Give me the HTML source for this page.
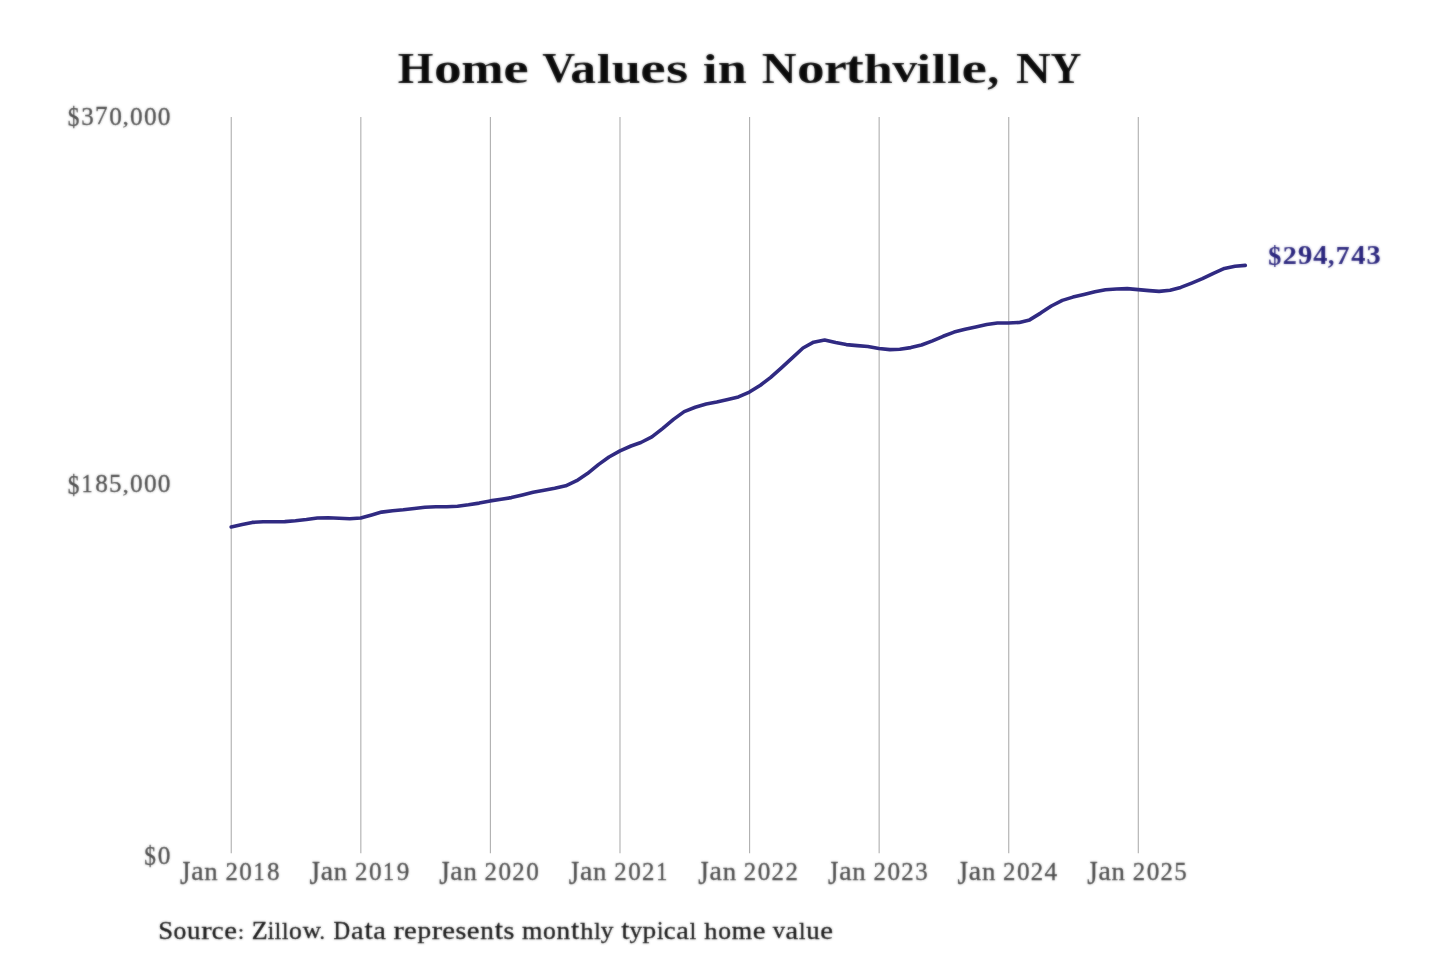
<!DOCTYPE html>
<html lang="en">
<head>
<meta charset="utf-8">
<title>Home Values in Northville, NY</title>
<style>
html, body { margin: 0; padding: 0; background: #ffffff; }
body { width: 1440px; height: 960px; overflow: hidden; font-family: "Liberation Serif", serif; }
svg { display: block; }
svg text { font-family: "Liberation Serif", serif; font-size: 40px; }
.grid line { stroke:#b2b2b2; stroke-width:1.15; }
.series { fill:none; stroke:#302a82; stroke-width:3.6; stroke-linecap:round; stroke-linejoin:round; }
.title text { font-weight: bold; fill: #0a0a0a; }
.title { filter: url(#soft); }
.ylab text { font-weight: normal; fill: #4a4a4a; stroke: #4a4a4a; }
.ylab { filter: url(#soft); }
.xlab text { font-weight: normal; fill: #4a4a4a; stroke: #4a4a4a; }
.xlab { filter: url(#soft); }
.endlab text { font-weight: bold; fill: #28237c; stroke: #28237c; }
.endlab { filter: url(#soft); }
.source text { font-weight: normal; fill: #161616; stroke: #161616; }
.source { filter: url(#soft); }
</style>
</head>
<body>
<svg width="1440" height="960" viewBox="0 0 1440 960">
<defs>
<filter id="soft" filterUnits="userSpaceOnUse" x="0" y="0" width="1440" height="960" color-interpolation-filters="sRGB">
<feGaussianBlur in="SourceGraphic" stdDeviation="0.8" result="b"/>
<feComposite in="SourceGraphic" in2="b" operator="arithmetic" k1="0" k2="0.5" k3="0.5" k4="0"/>
</filter>
</defs>
<rect x="0" y="0" width="1440" height="960" fill="#ffffff"/>
<g class="grid">
<line x1="231.25" y1="117.0" x2="231.25" y2="853.2"/>
<line x1="360.83" y1="117.0" x2="360.83" y2="853.2"/>
<line x1="490.41" y1="117.0" x2="490.41" y2="853.2"/>
<line x1="619.99" y1="117.0" x2="619.99" y2="853.2"/>
<line x1="749.57" y1="117.0" x2="749.57" y2="853.2"/>
<line x1="879.15" y1="117.0" x2="879.15" y2="853.2"/>
<line x1="1008.73" y1="117.0" x2="1008.73" y2="853.2"/>
<line x1="1138.31" y1="117.0" x2="1138.31" y2="853.2"/>
</g>
<g class="title">
<text transform="matrix(1.1475 0 0 1.0825 397.77 82.85)">H</text>
<text transform="matrix(1.3839 0 0 1.1065 434.04 82.97)">o</text>
<text transform="matrix(1.2698 0 0 1.1002 461.21 82.85)">m</text>
<text transform="matrix(1.4340 0 0 1.1099 503.26 82.99)">e</text>
<text transform="matrix(1.1386 0 0 1.0580 542.25 82.21)">V</text>
<text transform="matrix(1.2915 0 0 1.1110 570.36 82.97)">a</text>
<text transform="matrix(1.3313 0 0 1.0646 596.65 82.85)">l</text>
<text transform="matrix(1.3042 0 0 1.1002 611.67 82.86)">u</text>
<text transform="matrix(1.4340 0 0 1.1099 640.33 82.99)">e</text>
<text transform="matrix(1.4335 0 0 1.1065 666.11 82.97)">s</text>
<text transform="matrix(1.3313 0 0 1.0646 702.80 82.85)">i</text>
<text transform="matrix(1.3042 0 0 1.1002 717.78 82.85)">n</text>
<text transform="matrix(1.2043 0 0 1.0825 761.71 82.85)">N</text>
<text transform="matrix(1.3839 0 0 1.1065 797.00 82.97)">o</text>
<text transform="matrix(1.2865 0 0 1.0945 823.94 82.85)">r</text>
<text transform="matrix(1.3873 0 0 1.1786 845.33 82.94)">t</text>
<text transform="matrix(1.3059 0 0 1.0646 863.69 82.85)">h</text>
<text transform="matrix(1.2493 0 0 1.0766 892.15 82.43)">v</text>
<text transform="matrix(1.3313 0 0 1.0646 916.34 82.85)">i</text>
<text transform="matrix(1.3313 0 0 1.0646 931.68 82.85)">l</text>
<text transform="matrix(1.3313 0 0 1.0646 946.89 82.85)">l</text>
<text transform="matrix(1.4340 0 0 1.1099 961.45 82.99)">e</text>
<text transform="matrix(1.1978 0 0 1.0336 987.14 82.87)">,</text>
<text transform="matrix(1.2043 0 0 1.0825 1015.97 82.85)">N</text>
<text transform="matrix(1.0687 0 0 1.0825 1050.62 82.85)">Y</text>
</g>
<g class="ylab">
<text transform="matrix(0.5830 0 0 0.6591 67.81 125.91)" stroke-width="0.484">$</text>
<text transform="matrix(0.6249 0 0 0.6530 81.33 124.53)" stroke-width="0.470">3</text>
<text transform="matrix(0.6290 0 0 0.6454 94.96 124.45)" stroke-width="0.471">7</text>
<text transform="matrix(0.6324 0 0 0.6502 109.17 124.53)" stroke-width="0.468">0</text>
<text transform="matrix(0.6290 0 0 0.5384 122.44 124.35)" stroke-width="0.516">,</text>
<text transform="matrix(0.6324 0 0 0.6502 130.04 124.53)" stroke-width="0.468">0</text>
<text transform="matrix(0.6324 0 0 0.6502 143.95 124.53)" stroke-width="0.468">0</text>
<text transform="matrix(0.6324 0 0 0.6502 157.87 124.53)" stroke-width="0.468">0</text>
<text transform="matrix(0.5830 0 0 0.6591 67.81 493.81)" stroke-width="0.484">$</text>
<text transform="matrix(0.5565 0 0 0.6520 81.58 492.35)" stroke-width="0.498">1</text>
<text transform="matrix(0.6298 0 0 0.6502 95.28 492.43)" stroke-width="0.469">8</text>
<text transform="matrix(0.6249 0 0 0.6485 109.10 492.43)" stroke-width="0.471">5</text>
<text transform="matrix(0.6290 0 0 0.5384 122.44 492.25)" stroke-width="0.516">,</text>
<text transform="matrix(0.6324 0 0 0.6502 130.04 492.43)" stroke-width="0.468">0</text>
<text transform="matrix(0.6324 0 0 0.6502 143.95 492.43)" stroke-width="0.468">0</text>
<text transform="matrix(0.6324 0 0 0.6502 157.87 492.43)" stroke-width="0.468">0</text>
<text transform="matrix(0.5830 0 0 0.6591 144.33 865.31)" stroke-width="0.484">$</text>
<text transform="matrix(0.6324 0 0 0.6502 157.87 863.93)" stroke-width="0.468">0</text>
</g>
<g class="xlab">
<text transform="matrix(0.6675 0 0 0.8206 179.89 884.24)" stroke-width="0.405">J</text>
<text transform="matrix(0.6958 0 0 0.6585 191.13 879.73)" stroke-width="0.443">a</text>
<text transform="matrix(0.6682 0 0 0.6517 204.19 879.65)" stroke-width="0.455">n</text>
<text transform="matrix(0.6206 0 0 0.6500 225.38 879.65)" stroke-width="0.472">2</text>
<text transform="matrix(0.6303 0 0 0.6502 239.33 879.73)" stroke-width="0.469">0</text>
<text transform="matrix(0.5547 0 0 0.6520 253.44 879.65)" stroke-width="0.499">1</text>
<text transform="matrix(0.6278 0 0 0.6502 267.10 879.73)" stroke-width="0.470">8</text>
<text transform="matrix(0.6675 0 0 0.8206 309.51 884.24)" stroke-width="0.405">J</text>
<text transform="matrix(0.6958 0 0 0.6585 320.75 879.73)" stroke-width="0.443">a</text>
<text transform="matrix(0.6682 0 0 0.6517 333.81 879.65)" stroke-width="0.455">n</text>
<text transform="matrix(0.6206 0 0 0.6500 355.00 879.65)" stroke-width="0.472">2</text>
<text transform="matrix(0.6303 0 0 0.6502 368.95 879.73)" stroke-width="0.469">0</text>
<text transform="matrix(0.5547 0 0 0.6520 383.06 879.65)" stroke-width="0.499">1</text>
<text transform="matrix(0.6284 0 0 0.6530 396.78 879.73)" stroke-width="0.468">9</text>
<text transform="matrix(0.6675 0 0 0.8206 439.13 884.24)" stroke-width="0.405">J</text>
<text transform="matrix(0.6958 0 0 0.6585 450.37 879.73)" stroke-width="0.443">a</text>
<text transform="matrix(0.6682 0 0 0.6517 463.43 879.65)" stroke-width="0.455">n</text>
<text transform="matrix(0.6206 0 0 0.6500 484.62 879.65)" stroke-width="0.472">2</text>
<text transform="matrix(0.6303 0 0 0.6502 498.57 879.73)" stroke-width="0.469">0</text>
<text transform="matrix(0.6206 0 0 0.6500 512.36 879.65)" stroke-width="0.472">2</text>
<text transform="matrix(0.6303 0 0 0.6502 526.31 879.73)" stroke-width="0.469">0</text>
<text transform="matrix(0.6675 0 0 0.8206 568.75 884.24)" stroke-width="0.405">J</text>
<text transform="matrix(0.6958 0 0 0.6585 579.99 879.73)" stroke-width="0.443">a</text>
<text transform="matrix(0.6682 0 0 0.6517 593.05 879.65)" stroke-width="0.455">n</text>
<text transform="matrix(0.6206 0 0 0.6500 614.24 879.65)" stroke-width="0.472">2</text>
<text transform="matrix(0.6303 0 0 0.6502 628.19 879.73)" stroke-width="0.469">0</text>
<text transform="matrix(0.6206 0 0 0.6500 641.98 879.65)" stroke-width="0.472">2</text>
<text transform="matrix(0.5547 0 0 0.6520 656.17 879.65)" stroke-width="0.499">1</text>
<text transform="matrix(0.6675 0 0 0.8206 698.37 884.24)" stroke-width="0.405">J</text>
<text transform="matrix(0.6958 0 0 0.6585 709.61 879.73)" stroke-width="0.443">a</text>
<text transform="matrix(0.6682 0 0 0.6517 722.67 879.65)" stroke-width="0.455">n</text>
<text transform="matrix(0.6206 0 0 0.6500 743.86 879.65)" stroke-width="0.472">2</text>
<text transform="matrix(0.6303 0 0 0.6502 757.81 879.73)" stroke-width="0.469">0</text>
<text transform="matrix(0.6206 0 0 0.6500 771.60 879.65)" stroke-width="0.472">2</text>
<text transform="matrix(0.6206 0 0 0.6500 785.46 879.65)" stroke-width="0.472">2</text>
<text transform="matrix(0.6675 0 0 0.8206 827.99 884.24)" stroke-width="0.405">J</text>
<text transform="matrix(0.6958 0 0 0.6585 839.23 879.73)" stroke-width="0.443">a</text>
<text transform="matrix(0.6682 0 0 0.6517 852.29 879.65)" stroke-width="0.455">n</text>
<text transform="matrix(0.6206 0 0 0.6500 873.48 879.65)" stroke-width="0.472">2</text>
<text transform="matrix(0.6303 0 0 0.6502 887.43 879.73)" stroke-width="0.469">0</text>
<text transform="matrix(0.6206 0 0 0.6500 901.22 879.65)" stroke-width="0.472">2</text>
<text transform="matrix(0.6228 0 0 0.6530 915.16 879.73)" stroke-width="0.470">3</text>
<text transform="matrix(0.6675 0 0 0.8206 957.61 884.24)" stroke-width="0.405">J</text>
<text transform="matrix(0.6958 0 0 0.6585 968.85 879.73)" stroke-width="0.443">a</text>
<text transform="matrix(0.6682 0 0 0.6517 981.91 879.65)" stroke-width="0.455">n</text>
<text transform="matrix(0.6206 0 0 0.6500 1003.10 879.65)" stroke-width="0.472">2</text>
<text transform="matrix(0.6303 0 0 0.6502 1017.05 879.73)" stroke-width="0.469">0</text>
<text transform="matrix(0.6206 0 0 0.6500 1030.84 879.65)" stroke-width="0.472">2</text>
<text transform="matrix(0.6348 0 0 0.6539 1044.49 879.65)" stroke-width="0.466">4</text>
<text transform="matrix(0.6675 0 0 0.8206 1087.23 884.24)" stroke-width="0.405">J</text>
<text transform="matrix(0.6958 0 0 0.6585 1098.47 879.73)" stroke-width="0.443">a</text>
<text transform="matrix(0.6682 0 0 0.6517 1111.53 879.65)" stroke-width="0.455">n</text>
<text transform="matrix(0.6206 0 0 0.6500 1132.72 879.65)" stroke-width="0.472">2</text>
<text transform="matrix(0.6303 0 0 0.6502 1146.67 879.73)" stroke-width="0.469">0</text>
<text transform="matrix(0.6206 0 0 0.6500 1160.46 879.65)" stroke-width="0.472">2</text>
<text transform="matrix(0.6228 0 0 0.6485 1174.34 879.73)" stroke-width="0.472">5</text>
</g>
<g class="endlab">
<text transform="matrix(0.6484 0 0 0.6641 1268.15 265.10)" stroke-width="0.229">$</text>
<text transform="matrix(0.7011 0 0 0.6557 1282.63 263.68)" stroke-width="0.221">2</text>
<text transform="matrix(0.7161 0 0 0.6586 1297.97 263.75)" stroke-width="0.218">9</text>
<text transform="matrix(0.7094 0 0 0.6596 1313.29 263.68)" stroke-width="0.219">4</text>
<text transform="matrix(0.6353 0 0 0.6148 1327.95 263.76)" stroke-width="0.240">,</text>
<text transform="matrix(0.6884 0 0 0.6511 1335.77 263.68)" stroke-width="0.224">7</text>
<text transform="matrix(0.7094 0 0 0.6596 1351.34 263.68)" stroke-width="0.219">4</text>
<text transform="matrix(0.7088 0 0 0.6586 1366.51 263.75)" stroke-width="0.220">3</text>
</g>
<g class="source">
<text transform="matrix(0.6678 0 0 0.6142 158.17 938.65)" stroke-width="0.546">S</text>
<text transform="matrix(0.6392 0 0 0.6159 173.49 938.65)" stroke-width="0.558">o</text>
<text transform="matrix(0.6694 0 0 0.6151 187.01 938.65)" stroke-width="0.545">u</text>
<text transform="matrix(0.7806 0 0 0.6119 201.30 938.58)" stroke-width="0.506">r</text>
<text transform="matrix(0.6666 0 0 0.6159 211.87 938.65)" stroke-width="0.546">c</text>
<text transform="matrix(0.7173 0 0 0.6159 224.24 938.65)" stroke-width="0.527">e</text>
<text transform="matrix(0.5406 0 0 0.4985 238.05 938.61)" stroke-width="0.674">:</text>
<text transform="matrix(0.6523 0 0 0.6069 251.79 938.58)" stroke-width="0.556">Z</text>
<text transform="matrix(0.5741 0 0 0.6060 267.84 938.58)" stroke-width="0.593">i</text>
<text transform="matrix(0.5753 0 0 0.5975 274.83 938.58)" stroke-width="0.597">l</text>
<text transform="matrix(0.5753 0 0 0.5975 281.96 938.58)" stroke-width="0.597">l</text>
<text transform="matrix(0.6392 0 0 0.6159 289.04 938.65)" stroke-width="0.558">o</text>
<text transform="matrix(0.6303 0 0 0.5983 302.66 938.34)" stroke-width="0.570">w</text>
<text transform="matrix(0.5384 0 0 0.5407 319.43 938.58)" stroke-width="0.649">.</text>
<text transform="matrix(0.5742 0 0 0.6051 333.49 938.53)" stroke-width="0.594">D</text>
<text transform="matrix(0.7085 0 0 0.6184 350.90 938.65)" stroke-width="0.529">a</text>
<text transform="matrix(0.7427 0 0 0.6601 364.43 938.63)" stroke-width="0.500">t</text>
<text transform="matrix(0.7085 0 0 0.6184 373.15 938.65)" stroke-width="0.529">a</text>
<text transform="matrix(0.7806 0 0 0.6119 393.58 938.58)" stroke-width="0.506">r</text>
<text transform="matrix(0.7173 0 0 0.6159 404.05 938.65)" stroke-width="0.527">e</text>
<text transform="matrix(0.6830 0 0 0.5909 417.45 938.18)" stroke-width="0.551">p</text>
<text transform="matrix(0.7806 0 0 0.6119 431.69 938.58)" stroke-width="0.506">r</text>
<text transform="matrix(0.7173 0 0 0.6159 442.15 938.65)" stroke-width="0.527">e</text>
<text transform="matrix(0.6965 0 0 0.6159 455.46 938.65)" stroke-width="0.534">s</text>
<text transform="matrix(0.7173 0 0 0.6159 466.78 938.65)" stroke-width="0.527">e</text>
<text transform="matrix(0.6807 0 0 0.6119 480.16 938.58)" stroke-width="0.542">n</text>
<text transform="matrix(0.7427 0 0 0.6601 494.68 938.63)" stroke-width="0.500">t</text>
<text transform="matrix(0.6965 0 0 0.6159 503.40 938.65)" stroke-width="0.534">s</text>
<text transform="matrix(0.6533 0 0 0.6119 522.06 938.58)" stroke-width="0.554">m</text>
<text transform="matrix(0.6392 0 0 0.6159 543.08 938.65)" stroke-width="0.558">o</text>
<text transform="matrix(0.6807 0 0 0.6119 556.54 938.58)" stroke-width="0.542">n</text>
<text transform="matrix(0.7427 0 0 0.6601 571.06 938.63)" stroke-width="0.500">t</text>
<text transform="matrix(0.6591 0 0 0.5975 580.21 938.58)" stroke-width="0.558">h</text>
<text transform="matrix(0.5753 0 0 0.5975 594.20 938.58)" stroke-width="0.597">l</text>
<text transform="matrix(0.6324 0 0 0.5990 600.77 938.36)" stroke-width="0.569">y</text>
<text transform="matrix(0.7427 0 0 0.6601 621.17 938.63)" stroke-width="0.500">t</text>
<text transform="matrix(0.6324 0 0 0.5990 629.40 938.36)" stroke-width="0.569">y</text>
<text transform="matrix(0.6830 0 0 0.5909 642.57 938.18)" stroke-width="0.551">p</text>
<text transform="matrix(0.5741 0 0 0.6060 656.96 938.58)" stroke-width="0.593">i</text>
<text transform="matrix(0.6666 0 0 0.6159 663.86 938.65)" stroke-width="0.546">c</text>
<text transform="matrix(0.7085 0 0 0.6184 676.36 938.65)" stroke-width="0.529">a</text>
<text transform="matrix(0.5753 0 0 0.5975 689.71 938.58)" stroke-width="0.597">l</text>
<text transform="matrix(0.6591 0 0 0.5975 704.29 938.58)" stroke-width="0.558">h</text>
<text transform="matrix(0.6392 0 0 0.6159 718.23 938.65)" stroke-width="0.558">o</text>
<text transform="matrix(0.6533 0 0 0.6119 731.77 938.58)" stroke-width="0.554">m</text>
<text transform="matrix(0.7173 0 0 0.6159 752.63 938.65)" stroke-width="0.527">e</text>
<text transform="matrix(0.6120 0 0 0.5983 772.85 938.34)" stroke-width="0.578">v</text>
<text transform="matrix(0.7085 0 0 0.6184 785.62 938.65)" stroke-width="0.529">a</text>
<text transform="matrix(0.5753 0 0 0.5975 798.98 938.58)" stroke-width="0.597">l</text>
<text transform="matrix(0.6694 0 0 0.6151 806.17 938.65)" stroke-width="0.545">u</text>
<text transform="matrix(0.7173 0 0 0.6159 820.26 938.65)" stroke-width="0.527">e</text>
</g>
<path class="series" d="M231.2 527.0 L242.2 524.6 L252.2 522.4 L263.2 521.8 L273.8 521.8 L284.8 521.6 L295.4 520.7 L306.4 519.5 L317.4 518.0 L328.1 517.8 L339.1 518.2 L349.7 518.8 L360.7 518.0 L371.7 515.0 L381.6 512.1 L392.6 510.7 L403.3 509.8 L414.3 508.5 L424.9 507.2 L435.9 506.7 L446.9 506.8 L457.5 506.2 L468.5 504.8 L479.2 503.1 L490.2 500.9 L501.2 499.2 L511.4 497.6 L522.4 494.9 L533.1 492.2 L544.1 490.2 L554.7 488.2 L565.7 485.8 L576.7 480.7 L587.4 473.6 L598.4 464.6 L609.0 457.0 L620.0 450.9 L631.0 446.0 L640.9 442.5 L651.9 436.9 L662.5 428.6 L673.5 419.4 L684.2 411.6 L695.2 407.3 L706.2 404.1 L716.8 402.0 L727.8 399.5 L738.4 396.9 L749.4 392.1 L760.4 385.2 L770.4 377.6 L781.4 367.8 L792.0 358.1 L803.0 348.0 L813.6 342.2 L824.6 340.0 L835.6 342.6 L846.3 344.6 L857.3 345.6 L867.9 346.5 L878.9 348.5 L889.9 349.6 L899.8 349.3 L910.8 347.6 L921.5 345.0 L932.5 340.9 L943.1 336.3 L954.1 332.1 L965.1 329.3 L975.7 327.0 L986.7 324.5 L997.4 323.0 L1008.4 323.0 L1019.4 322.5 L1029.6 319.9 L1040.6 313.1 L1051.3 306.0 L1062.3 300.4 L1072.9 297.1 L1083.9 294.4 L1094.9 291.7 L1105.5 289.7 L1116.5 289.0 L1127.2 288.6 L1138.2 289.6 L1149.2 290.6 L1159.1 291.4 L1170.1 290.2 L1180.7 287.4 L1191.7 283.1 L1202.4 278.7 L1213.4 273.3 L1224.4 268.4 L1235.0 266.2 L1245.3 265.4"/>
</svg>
</body>
</html>
